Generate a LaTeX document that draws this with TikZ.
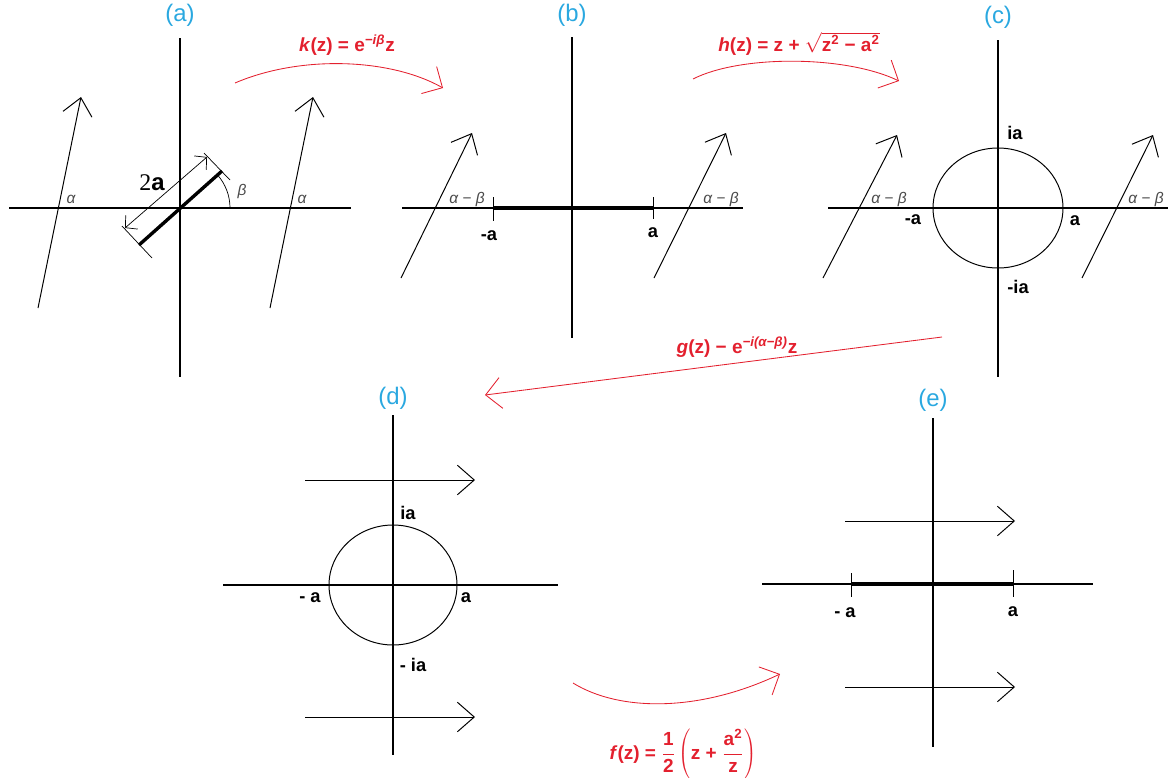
\documentclass[tikz,border=0pt]{standalone}
\usepackage{fontspec}
\setmainfont{Liberation Sans}
\newfontfamily\serifdigit{Liberation Serif}
\usetikzlibrary{arrows.meta}
\definecolor{mapred}{HTML}{E3202E}
\definecolor{tagblue}{HTML}{2AA8E0}
\definecolor{anglegray}{HTML}{4A4A4A}

\begin{document}
\begin{tikzpicture}[x=0.025cm, y=-0.025cm, line width=0.7pt,
    axis/.style={line width=0.9pt},
    flow/.style={-{Straight Barb[length=12pt,width=21pt,line width=0.7pt]}},
    dim/.style={line width=0.5pt, {Straight Barb[length=6pt,width=13pt]}-{Straight Barb[length=6pt,width=13pt]}},
    cut/.style={line width=2.4pt},
    map/.style={mapred, line width=0.6pt, -{Straight Barb[length=11pt,width=22pt,line width=0.6pt]}},
    tag/.style={text=tagblue, font=\fontsize{17}{20}\selectfont},
    pt/.style={font=\fontsize{13}{15}\selectfont\bfseries},
    ang/.style={text=anglegray, font=\fontsize{11}{13}\selectfont\itshape},
    formula/.style={text=mapred, font=\fontsize{13.5}{16}\selectfont\bfseries}]
    \useasboundingbox (0,0) rectangle (1168,777);

    % (a)
    \node[tag] (tag-a) at (180,15) {(a)};
    \draw[axis] (180,38) -- (180,377);
    \draw[axis] (9,208) -- (351,208);
    \draw[flow] (38,308) -- (81,97);
    \draw[flow] (270,308) -- (313,97);
    \node[ang] (al-a1) at (71,199) {α};
    \node[ang] (al-a2) at (302,199) {α};
    \draw[cut] (139,245) -- (222,171);
    \draw[line width=0.5pt] (122,226) -- (152,258);
    \draw[line width=0.5pt] (204,153) -- (230,180);
    \draw[dim] (125,228) -- (207,157);
    \draw[line width=0.5pt] (230,208) arc[start angle=0, end angle=-41, radius=50];
    \node[ang] (be-a) at (242,191) {β};
    \node (len-a) at (152,183) {\fontsize{17}{20}\selectfont\serifdigit 2\bfseries\sffamily\fontspec{Liberation Sans}a};

    % (b)
    \node[tag] (tag-b) at (572,15) {(b)};
    \draw[axis] (572,37) -- (572,338);
    \draw[axis] (402,208) -- (743,208);
    \draw[cut] (493,208) -- (653,208);
    \draw (493,197) -- (493,221);
    \draw (653,197) -- (653,219);
    \node[pt] (ma-b) at (489,236) {-a};
    \node[pt] (pa-b) at (653,233) {a};
    \draw[flow] (401,278) -- (472,133);
    \draw[flow] (654,278) -- (726,133);
    \node[ang] (ab-b1) at (467,199) {α − β};
    \node[ang] (ab-b2) at (721,199) {α − β};

    % (c)
    \node[tag] (tag-c) at (998,17) {(c)};
    \draw[axis] (998,40) -- (998,377);
    \draw[axis] (828,208) -- (1168,208);
    \draw (998,208) ellipse[x radius=65, y radius=60];
    \node[pt] (ia-c) at (1015,133) {ia};
    \node[pt] (ma-c) at (913,220) {-a};
    \node[pt] (pa-c) at (1075,221) {a};
    \node[pt] (mia-c) at (1018,287) {-ia};
    \draw[flow] (823,278) -- (897,135);
    \draw[flow] (1082,278) -- (1153,135);
    \node[ang] (ab-c1) at (889,199) {α − β};
    \node[ang] (ab-c2) at (1146,199) {α − β};

    % (d)
    \node[tag] (tag-d) at (393,398) {(d)};
    \draw[axis] (393,415) -- (393,755);
    \draw[axis] (223,585) -- (558,585);
    \draw (393,585) ellipse[x radius=64, y radius=60];
    \node[pt] (ia-d) at (408,513) {ia};
    \node[pt] (ma-d) at (310,598) {- a};
    \node[pt] (pa-d) at (466,598) {a};
    \node[pt] (mia-d) at (413,665) {- ia};
    \draw[flow] (305,480) -- (475,480);
    \draw[flow] (305,717) -- (475,717);

    % (e)
    \node[tag] (tag-e) at (933,400) {(e)};
    \draw[axis] (933,418) -- (933,747);
    \draw[axis] (762,584) -- (1093,584);
    \draw[cut] (851,584) -- (1013,584);
    \draw (851,573) -- (851,597);
    \draw (1013,570) -- (1013,597);
    \node[pt] (ma-e) at (845,613) {- a};
    \node[pt] (pa-e) at (1013,612) {a};
    \draw[flow] (845,521) -- (1015,521);
    \draw[flow] (845,687) -- (1015,687);

    % maps
    \coordinate (k-from) at (235,83);
    \coordinate (k-to) at (443,88);
    \draw[map] (k-from) .. controls (300,55) and (390,58) .. (k-to);
    \node[formula] (k-map) at (347,45) {\textit{k}(z) = e\textsuperscript{\itshape −iβ}z};

    \coordinate (h-from) at (693,79);
    \coordinate (h-to) at (899,81);
    \draw[map] (h-from) .. controls (740,55) and (845,55) .. (h-to);
    \node[formula] (h-map) at (799,44) {\textit{h}(z) = z + $\sqrt{\mbox{z\textsuperscript{2} − a\textsuperscript{2}}}$};

    \coordinate (g-from) at (942,337);
    \coordinate (g-to) at (485,395);
    \draw[map] (g-from) -- (g-to);
    \node[formula] (g-map) at (737,347) {\textit{g}(z) − e\textsuperscript{\itshape −i(α−β)}z};

    \coordinate (f-from) at (573,683);
    \coordinate (f-to) at (780,674);
    \draw[map] (f-from) .. controls (620,712) and (700,712) .. (f-to);
    \node[formula] (f-map) at (683,754) {\textit{f}(z) = $\displaystyle\frac{\mbox{1}}{\mbox{2}}\left(\mbox{z + }\frac{\mbox{a\textsuperscript{2}}}{\mbox{z}}\right)$};
\end{tikzpicture}
\end{document}
